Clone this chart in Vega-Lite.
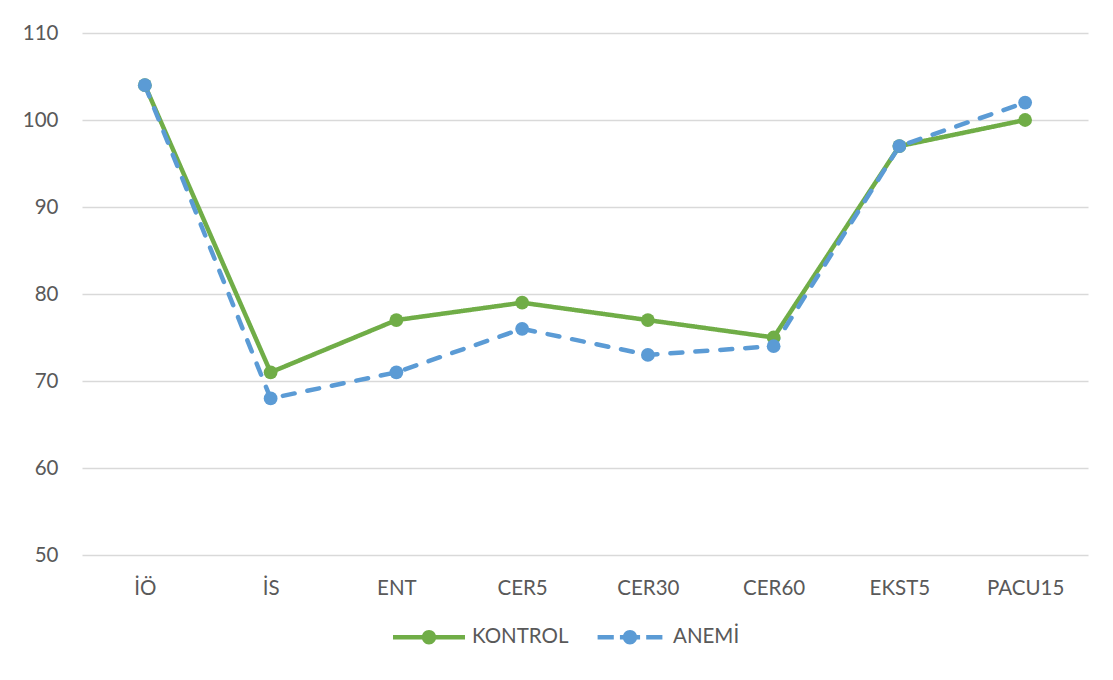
{
  "$schema": "https://vega.github.io/schema/vega-lite/v6.json",
  "autosize": "none",
  "width": 1006,
  "height": 522,
  "padding": {"left": 82, "top": 33, "right": 25, "bottom": 125},
  "background": "white",
  "config": {
    "view": {"stroke": null},
    "font": "Lato",
    "axis": {"labelFont": "Lato", "labelColor": "#595959", "labelFontSize": 20.5, "gridColor": "#d9d9d9", "gridWidth": 1.3, "domain": false, "ticks": false, "title": null},
    "legend": {"labelFont": "Lato", "labelColor": "#595959", "labelFontSize": 20.5}
  },
  "data": {"values": [
    {"t": "İÖ", "g": "KONTROL", "v": 104},
    {"t": "İS", "g": "KONTROL", "v": 71},
    {"t": "ENT", "g": "KONTROL", "v": 77},
    {"t": "CER5", "g": "KONTROL", "v": 79},
    {"t": "CER30", "g": "KONTROL", "v": 77},
    {"t": "CER60", "g": "KONTROL", "v": 75},
    {"t": "EKST5", "g": "KONTROL", "v": 97},
    {"t": "PACU15", "g": "KONTROL", "v": 100},
    {"t": "İÖ", "g": "ANEMİ", "v": 104},
    {"t": "İS", "g": "ANEMİ", "v": 68},
    {"t": "ENT", "g": "ANEMİ", "v": 71},
    {"t": "CER5", "g": "ANEMİ", "v": 76},
    {"t": "CER30", "g": "ANEMİ", "v": 73},
    {"t": "CER60", "g": "ANEMİ", "v": 74},
    {"t": "EKST5", "g": "ANEMİ", "v": 97},
    {"t": "PACU15", "g": "ANEMİ", "v": 102}
  ]},
  "mark": {"type": "line", "strokeWidth": 4.5, "strokeCap": "round", "point": {"filled": true, "size": 190, "opacity": 1}},
  "encoding": {
    "x": {"field": "t", "type": "ordinal", "sort": ["İÖ", "İS", "ENT", "CER5", "CER30", "CER60", "EKST5", "PACU15"],
      "scale": {"type": "point", "padding": 0.5},
      "axis": {"labelAngle": 0, "labelPadding": 23, "grid": false}},
    "y": {"field": "v", "type": "quantitative", "scale": {"domain": [50, 110], "nice": false, "zero": false},
      "axis": {"values": [50, 60, 70, 80, 90, 100, 110], "labelPadding": 24, "grid": true}},
    "color": {"field": "g", "type": "nominal", "sort": ["KONTROL", "ANEMİ"],
      "scale": {"domain": ["KONTROL", "ANEMİ"], "range": ["#70AD47", "#5B9BD5"]},
      "legend": {"orient": "none", "legendX": 311, "legendY": 568, "direction": "horizontal", "title": null, "symbolSize": 5184, "columnPadding": 25, "labelOffset": 7,
        "encode": {"symbols": {"update": {
          "shape": {"signal": "datum.value === 'KONTROL' ? 'M-1,-0.0625H1V0.0625H-1Z M-0.2,0A0.2,0.2 0 1,1 0.2,0A0.2,0.2 0 1,1 -0.2,0Z' : 'M-0.9,-0.0625H-0.45V0.0625H-0.9Z M-0.28,-0.0625H0.28V0.0625H-0.28Z M0.45,-0.0625H0.9V0.0625H0.45Z M-0.2,0A0.2,0.2 0 1,1 0.2,0A0.2,0.2 0 1,1 -0.2,0Z'"},
          "fill": {"signal": "datum.value === 'KONTROL' ? '#70AD47' : '#5B9BD5'"},
          "fillOpacity": {"value": 1},
          "strokeWidth": {"value": 0}
        }}}}},
    "strokeDash": {"field": "g", "type": "nominal", "sort": ["KONTROL", "ANEMİ"],
      "scale": {"domain": ["KONTROL", "ANEMİ"], "range": [[1, 0], [12, 13]]},
      "legend": null}
  }
}
